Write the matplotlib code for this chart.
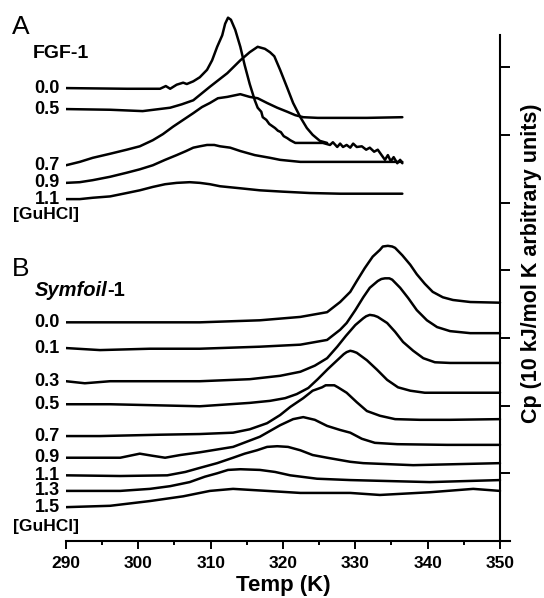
import numpy as np
import matplotlib
matplotlib.use("Agg")
from matplotlib import pyplot as plt
from matplotlib.ticker import MultipleLocator

plt.rcParams['font.family'] = ['Liberation Sans', 'DejaVu Sans']
plt.rcParams['font.weight'] = 'bold'

# temperature (K) and Cp (10 kJ/mol K per tick, offset curves)
# panel A: FGF-1
fgf_conc = ['0.0', '0.5', '0.7', '0.9', '1.1']
fgf_t_00 = [290.0, 298.4, 303.0, 303.8, 304.4, 305.3, 306.2, 306.7, 307.6, 308.5,
            309.5, 310.2, 310.9, 311.6, 312.0, 312.4, 312.8, 313.4, 314.1, 314.7,
            315.4, 316.1, 316.5, 317.0, 317.2, 317.7, 318.1, 318.5, 318.9, 319.3,
            319.7, 320.1, 320.6, 321.0, 321.7, 325.5, 326.5, 326.9, 327.5, 327.9,
            328.3, 328.8, 329.3, 329.7, 330.2, 330.9, 331.5, 332.0, 332.6, 333.1,
            333.7, 334.1, 334.5, 334.9, 335.3, 335.8, 336.2, 336.5]
fgf_cp_00 = [66.9, 66.8, 66.8, 67.2, 66.8, 67.4, 67.7, 67.5, 67.9, 68.5,
             69.6, 71.0, 73.0, 74.7, 76.4, 77.3, 77.0, 75.5, 73.0, 70.3,
             67.5, 65.1, 64.0, 63.4, 62.6, 62.2, 61.6, 61.3, 61.0, 60.6,
             60.4, 59.8, 59.5, 59.2, 58.8, 58.8, 58.5, 58.9, 58.2, 58.7,
             58.2, 58.5, 58.1, 58.7, 58.2, 58.3, 57.8, 58.1, 57.5, 57.8,
             56.9, 56.3, 57.0, 56.1, 56.7, 55.8, 56.3, 55.8]
fgf_t_05 = [290.0, 296.1, 300.6, 304.4, 306.0, 307.6, 309.9, 312.3, 314.1, 315.4,
            316.5, 317.5, 318.2, 318.8, 319.6, 320.6, 321.4, 322.4, 323.3, 324.1,
            325.1, 326.1]
fgf_cp_05 = [63.8, 63.7, 63.5, 64.0, 64.5, 65.1, 67.1, 69.1, 71.0, 72.2,
             73.0, 72.7, 72.2, 71.6, 69.6, 66.9, 64.7, 62.6, 61.0, 60.0,
             59.1, 58.8]
fgf_t_07 = [290.0, 291.9, 293.7, 296.1, 298.4, 300.2, 302.0, 303.4, 304.8, 306.2,
            307.6, 308.8, 309.9, 311.0, 312.3, 314.1, 315.4, 316.5, 317.8, 319.2,
            320.6, 321.7, 322.8, 324.8, 326.9, 331.6, 336.5]
fgf_cp_07 = [55.5, 56.0, 56.6, 57.2, 57.8, 58.3, 59.2, 60.1, 61.2, 62.2,
             63.2, 64.1, 64.7, 65.4, 65.6, 66.0, 65.6, 65.4, 64.7, 64.0,
             63.4, 62.9, 62.6, 62.5, 62.5, 62.5, 62.6]
fgf_t_09 = [290.0, 291.9, 293.7, 296.1, 298.4, 300.2, 302.0, 303.7, 305.3, 306.6,
            307.6, 308.5, 309.5, 310.5, 311.3, 312.7, 314.1, 316.1, 318.2, 319.6,
            322.4, 327.9, 336.5]
fgf_cp_09 = [52.9, 53.0, 53.3, 53.8, 54.4, 54.9, 55.5, 56.3, 57.0, 57.6,
             58.1, 58.3, 58.5, 58.5, 58.3, 58.1, 57.6, 57.0, 56.6, 56.3,
             56.0, 56.0, 56.0]
fgf_t_11 = [290.0, 291.9, 293.7, 296.1, 298.4, 300.2, 302.0, 303.7, 305.3, 307.1,
            308.5, 309.9, 311.3, 314.1, 316.8, 320.0, 323.7, 327.9, 336.5]
fgf_cp_11 = [50.5, 50.5, 50.7, 50.9, 51.4, 51.8, 52.3, 52.7, 52.9, 53.0,
             52.9, 52.7, 52.4, 52.1, 51.8, 51.6, 51.4, 51.3, 51.3]

# panel B: Symfoil-1
sym_conc = ['0.0', '0.1', '0.3', '0.5', '0.7', '0.9', '1.1', '1.3', '1.5']
sym_t_00 = [290.0, 297.5, 308.5, 316.8, 322.4, 326.1, 327.9, 329.3, 330.2, 331.3,
            332.4, 333.4, 333.8, 334.5, 335.1, 335.5, 336.5, 337.6, 338.5, 339.6,
            340.7, 342.1, 343.5, 345.9, 350.0]
sym_cp_00 = [32.3, 32.3, 32.3, 32.6, 33.1, 33.8, 35.3, 36.8, 38.4, 40.3,
             42.0, 43.0, 43.5, 43.6, 43.5, 43.3, 42.2, 40.8, 39.4, 38.0,
             36.8, 36.0, 35.6, 35.3, 35.2]
sym_t_01 = [290.0, 294.7, 301.6, 308.5, 316.8, 322.4, 326.1, 327.9, 328.8, 330.0,
            331.1, 332.0, 333.1, 333.6, 334.1, 334.7, 335.1, 336.2, 337.3, 338.5,
            339.9, 341.3, 343.1, 345.9, 350.0]
sym_cp_01 = [28.5, 28.2, 28.4, 28.4, 28.7, 29.0, 29.7, 31.2, 32.2, 34.1,
             36.0, 37.4, 38.4, 38.7, 38.8, 38.8, 38.6, 37.4, 35.9, 34.1,
             32.6, 31.6, 31.0, 30.7, 30.7]
sym_t_03 = [290.0, 292.6, 296.1, 301.6, 308.5, 315.4, 319.6, 322.4, 324.4, 326.1,
            327.5, 328.7, 330.0, 331.1, 331.5, 332.0, 332.6, 333.1, 334.4, 335.5,
            336.6, 338.0, 339.4, 341.0, 343.1, 350.0]
sym_cp_03 = [23.6, 23.3, 23.6, 23.6, 23.6, 23.9, 24.4, 25.0, 25.9, 27.0,
             28.7, 30.3, 31.9, 32.9, 33.2, 33.4, 33.3, 33.1, 32.2, 30.9,
             29.4, 28.1, 27.0, 26.4, 26.3, 26.3]
sym_t_05 = [290.0, 296.1, 300.2, 308.5, 315.4, 318.2, 320.3, 321.9, 323.5, 324.8,
            326.2, 327.5, 328.4, 328.8, 329.3, 329.7, 330.2, 331.6, 333.0, 334.4,
            335.9, 337.6, 339.6, 342.1, 350.0]
sym_cp_05 = [20.2, 20.2, 20.1, 19.9, 20.4, 20.7, 21.1, 21.7, 22.6, 23.9,
             25.4, 26.7, 27.6, 27.9, 28.1, 28.0, 27.8, 26.7, 25.3, 23.8,
             22.7, 22.2, 21.9, 21.9, 21.9]
sym_t_07 = [290.0, 294.7, 303.0, 308.5, 313.1, 315.4, 317.8, 319.6, 321.0, 322.8,
            324.1, 325.4, 325.9, 326.5, 327.1, 327.6, 328.8, 330.2, 331.6, 333.4,
            335.5, 338.9, 343.1, 350.0]
sym_cp_07 = [15.5, 15.5, 15.7, 15.8, 16.0, 16.5, 17.4, 18.6, 19.8, 21.1,
             22.2, 22.7, 23.0, 23.0, 23.0, 22.7, 21.9, 20.5, 19.2, 18.5,
             18.0, 17.9, 17.9, 18.0]
sym_t_09 = [290.0, 293.3, 297.5, 300.2, 301.9, 303.7, 305.8, 308.5, 313.1, 316.8,
            319.6, 321.4, 322.8, 324.4, 326.1, 327.9, 329.3, 330.9, 332.7, 335.8,
            342.7, 350.0]
sym_cp_09 = [12.3, 12.3, 12.3, 12.9, 12.6, 12.3, 12.7, 13.1, 13.9, 15.4,
             17.1, 18.0, 18.3, 17.9, 17.0, 16.4, 16.0, 15.1, 14.5, 14.3,
             14.2, 14.2]
sym_t_11 = [290.0, 297.5, 304.0, 306.5, 308.5, 310.9, 313.1, 314.7, 316.4, 317.8,
            319.2, 320.7, 322.4, 324.1, 326.1, 329.3, 331.1, 338.0, 350.0]
sym_cp_11 = [9.7, 9.6, 9.7, 10.2, 10.8, 11.5, 12.3, 12.9, 13.4, 13.9,
             14.0, 13.9, 13.4, 12.7, 12.3, 11.7, 11.5, 11.2, 11.5]
sym_t_13 = [290.0, 297.5, 301.6, 304.4, 307.1, 309.2, 310.9, 312.4, 314.1, 316.8,
            318.9, 321.0, 324.7, 329.3, 340.3, 350.0]
sym_cp_13 = [7.4, 7.4, 7.7, 8.1, 8.7, 9.5, 10.0, 10.5, 10.6, 10.5,
             10.2, 9.7, 9.2, 9.0, 8.7, 9.0]
sym_t_15 = [290.0, 296.1, 301.6, 306.2, 309.9, 313.1, 317.8, 322.4, 329.3, 333.4,
            340.3, 346.3, 350.0]
sym_cp_15 = [5.0, 5.2, 5.9, 6.6, 7.4, 7.7, 7.4, 7.1, 7.1, 6.8, 7.2, 7.7, 7.4]

fgf_curves = [(fgf_t_00, fgf_cp_00), (fgf_t_05, fgf_cp_05), (fgf_t_07, fgf_cp_07),
              (fgf_t_09, fgf_cp_09), (fgf_t_11, fgf_cp_11)]
sym_curves = [(sym_t_00, sym_cp_00), (sym_t_01, sym_cp_01), (sym_t_03, sym_cp_03),
              (sym_t_05, sym_cp_05), (sym_t_07, sym_cp_07), (sym_t_09, sym_cp_09),
              (sym_t_11, sym_cp_11), (sym_t_13, sym_cp_13), (sym_t_15, sym_cp_15)]

W, H = 544, 598
def fpos(x, y):
    return x / W, 1 - y / H

fig = plt.figure(figsize=(W / 100, H / 100), dpi=100)
ax = fig.add_axes([66 / W, 57 / H, 444 / W, 531 / H])
ax.set_xlim(290, 290 + 444 / 7.233)
ax.set_ylim(0, 531 / 6.77)

for conc, curves in [(fgf_conc, fgf_curves), (sym_conc, sym_curves)]:
    for lab, (t, cp) in zip(conc, curves):
        ax.plot(t, cp, color='black', lw=1.8, solid_joinstyle='round',
                solid_capstyle='round')
        ax.annotate(lab, xy=(t[0], cp[0]), xytext=(-4.5, 0), textcoords='offset points',
                    ha='right', va='center', fontsize=13, annotation_clip=False)

for s in ['left', 'top']:
    ax.spines[s].set_visible(False)
ax.spines['right'].set_position(('data', 350))
ax.spines['right'].set_bounds(0, 74.7)
ax.spines['right'].set_linewidth(1.5)
ax.spines['bottom'].set_linewidth(1.5)

ax.yaxis.set_ticks_position('right')
ax.set_yticks(np.arange(0, 71, 10))
ax.tick_params(axis='y', direction='out', length=7, width=1.4, labelright=False)
ax.xaxis.set_major_locator(MultipleLocator(10))
ax.xaxis.set_minor_locator(MultipleLocator(5))
ax.tick_params(axis='x', which='major', direction='out', length=6, width=1.4,
               labelsize=12.5, pad=5)
ax.tick_params(axis='x', which='minor', direction='out', length=3, width=1.4)
for lbl in ax.get_xticklabels():
    lbl.set_fontweight('bold')

fig.text(*fpos(283, 586), 'Temp (K)', ha='center', va='center', fontsize=16)
fig.text(*fpos(531, 263), 'Cp (10 kJ/mol K arbitrary units)', rotation=90,
         ha='center', va='center', fontsize=15.5)

fig.text(*fpos(12, 27), 'A', ha='left', va='center', fontsize=19, fontweight='normal')
fig.text(*fpos(33, 54), 'FGF-1', ha='left', va='center', fontsize=14)
fig.text(*fpos(13, 215), '[GuHCl]', ha='left', va='center', fontsize=12.5)

fig.text(*fpos(12, 269), 'B', ha='left', va='center', fontsize=19, fontweight='normal')
t1 = fig.text(*fpos(35, 290), 'Symfoil', ha='left', va='center', fontsize=14.5,
              style='italic')
ax.annotate('-1', xy=(1, 0), xycoords=t1, ha='left', va='bottom', fontsize=14.5)
fig.text(*fpos(13, 527), '[GuHCl]', ha='left', va='center', fontsize=12.5)

fig.savefig('out.png', dpi=100)
